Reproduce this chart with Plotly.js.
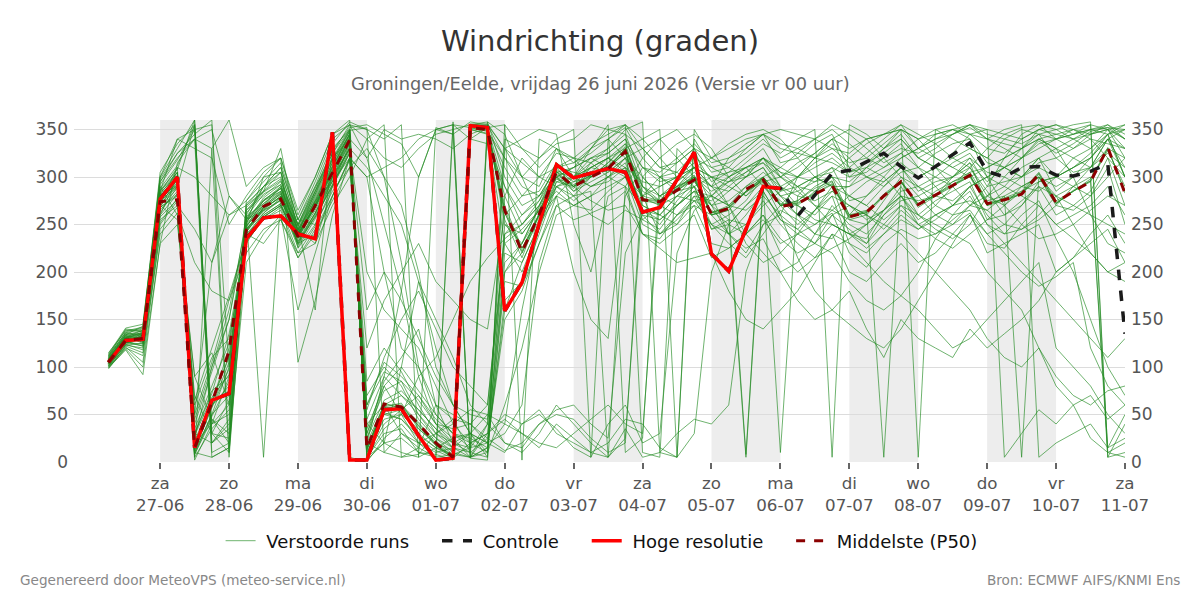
<!DOCTYPE html>
<html>
<head>
<meta charset="utf-8">
<script src="https://cdn.plot.ly/plotly-3.0.1.min.js"></script>
<style>
  html, body { margin: 0; padding: 0; background: #fff; }
  #chart { width: 1200px; height: 600px; }
</style>
</head>
<body>
<div id="chart"></div>
<script>
// Wind direction (degrees), 6-hourly steps from 26-06 06:00 to 11-07 00:00.

// High resolution run (first 10 days)
const hres = [105,128,129, 277,300,15,65, 72,235,257,259, 240,235,347,2, 2,55,56,28,
  2,4,354,352, 159,189,251,313, 299,304,309,305, 263,268,297,326, 219,201,245,290, 288];

// Control run
const control = [105,128,129, 277,300,15,65, 72,235,257,259, 240,235,347,2, 2,55,56,28,
  2,4,354,352, 159,189,251,313, 299,304,309,305, 263,268,297,326, 219,201,245,290,
  288,259,281,304, 307,316,325,311, 299,311,324,336, 306,300,310,311, 302,301,306,314, 135];

// Ensemble median
const p50 = [105,128,130, 274,276,15,62, 117,244,269,277, 237,270,305,339, 14,61,58,40,
  20,5,352,350, 265,221,261,305, 290,300,309,327, 276,274,286,297, 261,267,287,297,
  269,272,282,291, 258,263,280,295, 271,281,291,302, 272,276,282,303, 273,285,295,331, 283];

// Perturbed ensemble members
const run01 = [104,128,131, 278,296,12,58, 105,242,266,280, 238,272,308,342, 12,58,62,35, 18,6,350,346, 262,225,258,302, 292,302,312,328, 278,270,288,300, 262,270,285,298, 272,270,285,295, 260,262,282,296, 270,282,292,300, 270,278,285,305, 275,285,298,330, 285];
const run02 = [110,136,140, 292,318,350,20, 45,262,284,296, 250,290,335,358, 350,340,355,5, 352,345,358,355, 320,300,290,330, 315,325,340,352, 320,300,315,330, 305,310,330,345, 315,320,335,345, 310,325,340,355, 330,340,345,352, 340,330,320,338, 325,335,348,352, 340];
const run03 = [98,122,115, 240,262,210,180, 170,220,245,255, 215,240,280,320, 60,105,90,70, 45,30,25,15, 190,185,230,270, 255,262,270,285, 240,230,245,260, 215,225,240,255, 230,240,250,262, 220,205,230,245, 235,240,250,262, 220,230,240,250, 200,215,240,260, 230];
const run04 = [112,140,138, 300,330,360,30, 65,270,290,300, 245,282,325,350, 25,80,50,20, 5,355,340,352, 290,260,275,315, 300,330,355,10, 25,300,290,310, 290,300,315,330, 300,310,325,340, 300,315,330,345, 320,330,345,355, 350,5,30,55, 40,60,25,10, 20];
const run05 = [106,126,124, 268,280,40,95, 150,258,272,285, 232,262,300,335, 30,85,110,140, 60,20,10,5, 250,240,265,298, 288,310,320,305, 265,250,275,295, 270,240,260,285, 255,240,230,260, 245,230,260,280, 255,270,290,310, 285,260,270,295, 300,310,320,345, 300];
const run06 = [108,130,128, 285,305,8,45, 30,248,275,290, 240,285,330,5, 0,25,40,20, 10,15,355,358, 345,300,320,340, 350,5,340,355, 330,310,305,325, 295,305,320,335, 325,340,350,5, 355,345,330,340, 320,310,300,315, 295,310,330,345, 350,355,358,10, 5];
const run07 = [101,124,130, 262,290,30,75, 90,238,262,278, 228,260,295,330, 85,120,95,60, 30,20,15,40, 220,210,250,290, 275,290,300,315, 265,260,280,290, 245,255,5,290, 10,280,300,290, 240,235,265,290, 260,275,285,295, 255,260,275,290, 260,270,285,320, 270];
const run08 = [115,138,142, 305,335,355,5, 15,275,295,315, 255,295,340,355, 340,320,310,330, 345,350,355,356, 330,315,300,325, 320,315,325,340, 310,305,320,335, 315,320,330,345, 330,325,320,330, 315,320,335,350, 340,345,350,355, 345,340,335,345, 340,345,350,355, 345];
const run09 = [104,133,136, 275,298,18,60, 80,245,268,282, 236,268,303,338, 15,50,45,25, 12,4,20,30, 45,30,15,40, 25,10,20,45, 40,15,5,30, 200,250,270,290, 275,260,240,270, 250,240,260,275, 280,290,300,310, 280,270,290,300, 290,300,320,340, 310];
const run10 = [107,129,127, 272,290,10,50, 100,250,272,288, 240,268,300,330, 200,160,140,120, 80,40,20,10, 200,220,255,295, 300,310,305,320, 290,280,295,310, 300,290,280,295, 260,215,180,160, 145,130,120,140, 170,200,230,260, 240,250,270,290, 280,250,220,200, 190];
const run11 = [103,127,133, 282,290,5,35, 55,255,275,285, 245,278,315,348, 5,30,35,10, 8,2,356,354, 250,230,270,310, 305,300,310,330, 285,275,295,310, 270,285,300,310, 285,290,300,310, 275,280,295,310, 285,295,300,315, 270,285,300,320, 285,300,310,340, 300];
const run12 = [109,132,125, 255,270,245,210, 260,275,300,305, 225,250,285,310, 330,300,210,100, 60,50,40,60, 240,250,270,300, 280,285,5,290, 270,260,250,280, 250,260,275,300, 280,285,295,300, 280,270,255,270, 250,240,255,270, 265,280,290,300, 270,265,280,310, 250];
const run13 = [100,120,112, 250,275,60,110, 130,230,258,270, 232,258,290,325, 30,75,85,50, 30,15,10,25, 210,230,268,300, 290,315,330,345, 300,280,270,285, 280,270,290,305, 290,300,310,320, 305,310,320,335, 310,300,290,305, 310,320,330,340, 330,320,310,330, 320];
const run14 = [111,137,141, 298,325,345,360, 10,265,285,305, 250,288,328,352, 355,345,335,300, 350,355,352,348, 320,290,280,300, 310,320,330,350, 358,10,5,350, 320,310,300,320, 290,270,260,280, 270,260,245,265, 250,260,270,290, 300,310,320,335, 340,350,355,5, 10];
const run15 = [105,131,134, 276,300,22,65, 110,246,264,276, 236,265,300,336, 20,60,70,50, 25,10,5,350, 280,240,265,300, 285,295,305,320, 260,255,270,290, 250,240,225,235, 200,170,150,160, 180,140,110,150, 130,120,110,140, 120,135,150,170, 200,215,230,245, 210];
const run16 = [108,134,138, 288,312,355,20, 40,268,285,298, 242,275,315,345, 8,40,55,70, 40,25,5,10, 60,120,200,260, 270,280,300,310, 295,290,300,315, 300,305,310,320, 310,300,320,335, 320,300,290,305, 310,325,335,340, 315,310,300,320, 330,340,345,350, 330];
const run17 = [99,118,92, 230,250,90,45, 20,210,240,260, 160,220,280,320, 40,20,100,190, 120,60,30,20, 150,180,230,280, 270,280,290,300, 250,240,260,270, 230,225,240,260, 220,200,215,240, 200,190,210,230, 210,220,240,260, 230,225,250,270, 250,260,270,290, 260];
const run18 = [106,128,129, 280,300,15,60, 75,243,262,276, 238,270,306,340, 16,55,58,40, 22,8,355,350, 270,225,260,308, 295,300,310,325, 275,272,290,298, 260,265,285,300, 270,275,290,300, 260,265,5,295, 270,285,295,305, 275,280,5,300, 280,290,300,5, 40];
const run19 = [113,139,137, 295,320,340,350, 280,260,290,310, 255,290,320,340, 320,250,180,90, 40,20,30,50, 20,15,40,50, 45,25,10,20, 300,280,290,305, 290,285,300,320, 300,315,325,340, 330,340,345,350, 330,320,310,320, 305,300,290,285, 300,310,320,340, 330];
const run20 = [102,126,136, 265,285,35,80, 125,240,260,272, 234,262,296,332, 45,90,70,55, 35,20,350,345, 230,200,245,295, 290,305,320,310, 255,245,270,285, 245,250,270,285, 255,245,265,280, 230,220,240,260, 245,255,270,285, 250,240,260,275, 235,200,150,100, 70];
const run21 = [107,133,126, 274,292,28,68, 92,248,270,283, 240,270,304,336, 25,65,75,55, 35,15,5,15, 170,190,240,290, 300,315,300,290, 240,235,260,280, 275,290,305,320, 305,300,295,310, 300,305,320,330, 325,335,345,355, 340,350,355,5, 20,30,40,15, 25];
const run22 = [104,127,130, 270,288,45,100, 160,252,275,288, 244,274,310,344, 10,45,50,35, 20,12,340,335, 290,250,270,305, 310,320,325,340, 290,275,285,300, 280,270,265,280, 260,245,230,220, 190,170,160,175, 200,235,260,280, 250,230,210,190, 170,150,130,110, 130];
const run23 = [109,135,133, 284,310,2,40, 50,258,282,292, 248,282,320,350, 5,35,50,90, 110,150,190,215, 235,250,275,305, 300,290,295,310, 270,260,280,300, 285,295,305,315, 290,280,275,285, 270,255,265,285, 290,300,315,325, 300,290,280,270, 250,235,220,200, 210];
const run24 = [105,129,128, 276,294,20,62, 112,242,268,282, 236,271,307,342, 14,60,60,42, 18,4,353,352, 255,215,262,306, 285,300,315,332, 280,275,288,302, 262,268,285,300, 270,275,288,296, 255,260,280,295, 268,280,295,302, 270,275,282,300, 272,285,296,328, 290];
const run25 = [100,121,105, 245,268,70,30, 10,232,255,268, 220,248,290,325, 70,100,80,45, 25,15,30,20, 30,60,210,270, 280,300,310,300, 280,240,250,270, 260,265,8,295, 300,290,270,250, 240,230,250,270, 260,250,240,230, 200,180,160,120, 90,70,60,75, 80];
const run26 = [110,131,139, 286,308,360,30, 25,252,278,292, 242,280,318,348, 2,20,25,10, 5,358,4,2, 355,330,310,330, 320,300,315,335, 310,295,300,320, 310,315,325,340, 320,330,340,350, 335,320,310,320, 330,340,350,345, 350,345,340,350, 355,350,345,350, 355];
const run27 = [103,125,134, 260,300,50,210, 280,255,265,280, 230,262,298,330, 35,80,100,75, 50,30,20,30, 200,230,260,290, 295,310,320,330, 290,270,260,275, 280,295,310,315, 300,285,270,265, 255,250,265,280, 275,280,300,320, 290,295,300,310, 300,320,330,350, 320];
const run28 = [106,130,131, 279,297,14,57, 98,244,267,279, 237,269,305,339, 13,57,59,38, 17,5,351,349, 266,222,260,304, 290,302,310,326, 277,275,287,298, 263,268,284,297, 270,273,283,293, 258,264,280,294, 272,280,290,301, 272,277,283,304, 272,286,296,15, 50];
const run29 = [108,134,130, 282,305,10,50, 70,256,276,288, 244,276,312,346, 18,50,55,30, 15,5,355,350, 310,280,285,315, 300,310,320,335, 280,290,300,310, 290,270,240,220, 200,210,240,260, 270,260,250,240, 220,200,180,160, 130,110,100,120, 80,60,70,45, 60];
const run30 = [111,134,143, 295,325,340,10, 20,272,290,305, 248,285,325,355, 350,300,270,200, 100,60,30,5, 340,330,320,335, 340,355,350,345, 330,310,315,330, 320,330,340,345, 335,330,320,315, 305,315,325,340, 320,310,325,345, 340,335,330,340, 345,340,350,352, 350];
const run31 = [101,123,120, 258,276,50,105, 170,236,260,272, 226,256,292,326, 60,95,85,65, 40,35,40,25, 12,20,40,55, 60,40,25,220, 260,240,255,275, 265,250,240,260, 235,220,230,250, 240,250,265,280, 250,235,225,240, 255,270,285,295, 300,310,325,345, 300];
const run32 = [105,128,128, 277,296,16,62, 120,244,268,278, 240,271,306,340, 14,62,56,38, 20,6,352,352, 263,220,262,306, 290,300,310,326, 276,274,286,297, 260,268,284,296, 270,272,282,292, 257,263,280,296, 271,281,291,302, 272,276,282,303, 273,285,295,331, 283];
const run33 = [114,141,145, 300,340,330,320, 250,280,305,320, 260,300,345,360, 20,10,5,8, 30,45,40,20, 10,40,50,35, 15,5,40,60, 20,30,220,265, 280,300,310,290, 270,250,265,285, 290,300,310,325, 310,290,270,290, 300,310,320,330, 340,345,355,350, 340];
const run34 = [104,126,122, 268,282,30,72, 135,238,258,270, 230,258,292,328, 160,200,170,130, 90,60,50,45, 240,260,280,310, 320,335,345,355, 10,5,330,310, 300,295,300,310, 280,260,250,265, 280,295,305,315, 300,310,320,330, 320,310,300,315, 320,330,340,335, 330];
const run35 = [107,131,135, 283,302,8,48, 85,255,270,284, 239,273,311,345, 10,52,45,28, 15,8,5,30, 50,40,55,30, 20,10,5,25, 280,300,305,290, 270,255,250,270, 285,300,315,325, 310,300,295,310, 290,280,275,290, 260,240,245,255, 270,290,310,340, 350];
const run36 = [102,124,118, 252,278,65,120, 175,235,255,265, 215,245,280,318, 55,110,150,180, 140,100,80,60, 230,245,265,285, 270,265,285,300, 265,255,270,285, 270,275,290,300, 280,270,255,250, 240,225,240,255, 245,260,270,275, 265,250,245,260, 280,270,260,250, 240];
const run37 = [103,130,137, 285,340,350,355, 100,260,5,280, 250,160,330,350, 20,90,180,300, 350,345,5,15, 40,160,250,300, 310,330,340,320, 300,320,335,345, 330,300,280,300, 310,325,340,355, 345,330,315,325, 340,350,355,345, 330,325,340,350, 345,350,340,320, 300];
const run38 = [106,127,122, 270,255,90,115, 60,250,300,320, 105,170,260,320, 300,200,120,100, 50,30,15,20, 160,210,250,280, 200,150,130,280, 310,300,285,290, 300,270,230,210, 220,240,265,290, 290,310,300,280, 260,245,235,250, 280,300,320,340, 330,300,260,230, 220];
const run39 = [99,119,100, 230,315,340,330, 5,240,230,255, 220,230,270,300, 340,355,5,15, 60,45,10,355, 330,340,350,345, 250,200,280,290, 320,340,350,330, 280,240,220,250, 260,300,320,340, 350,340,320,300, 280,260,250,270, 290,320,345,355, 350,340,330,345, 350];
const run40 = [112,136,134, 290,260,30,20, 35,255,290,310, 255,250,300,330, 310,280,250,190, 150,110,60,40, 20,10,30,60, 40,20,5,35, 5,10,30,45, 40,60,200,250, 270,290,300,290, 280,270,290,310, 300,310,290,270, 280,290,310,320, 300,290,280,300, 320];
const run41 = [104,125,131, 272,310,300,280, 260,270,285,330, 240,275,295,320, 300,310,320,340, 350,355,5,40, 280,320,300,290, 280,260,250,265, 255,270,280,275, 250,230,215,240, 265,255,240,235, 260,280,300,320, 330,345,350,340, 300,270,250,235, 240,250,265,280, 270];
const run42 = [108,132,129, 280,292,25,100, 150,245,265,275, 240,268,310,345, 5,20,10,5, 15,25,30,10, 330,300,260,280, 300,320,310,330, 340,350,5,340, 310,300,310,320, 305,290,285,300, 295,310,330,350, 5,350,340,330, 320,340,350,345, 320,305,310,325, 310];
const run43 = [105,129,132, 268,300,5,330, 360,290,310,320, 265,300,345,355, 320,350,340,345, 340,330,345,352, 355,2,340,330, 300,290,300,320, 330,340,320,300, 290,320,335,345, 350,345,340,330, 325,340,345,355, 345,335,320,310, 330,345,352,355, 340,330,345,355, 340];
const run44 = [101,123,125, 260,282,20,40, 90,235,258,270, 230,240,275,310, 120,170,200,230, 190,170,150,140, 260,280,300,310, 290,275,265,270, 240,225,210,215, 220,180,150,140, 160,180,210,240, 230,210,190,175, 160,140,120,130, 150,170,190,210, 120,100,80,50, 30];
const run45 = [109,131,136, 278,305,10,5, 15,265,280,295, 250,285,318,349, 352,10,30,15, 5,8,15,358, 300,270,280,310, 315,330,350,355, 340,320,300,310, 320,335,345,350, 340,320,300,305, 320,335,345,350, 340,320,310,300, 310,320,330,350, 355,345,350,345, 355];
const run46 = [106,129,133, 275,290,355,40, 60,248,270,290, 245,230,290,335, 40,60,30,20, 30,40,55,50, 40,30,20,15, 30,45,60,40, 30,280,290,300, 260,240,250,275, 250,230,215,225, 235,250,275,300, 290,270,260,265, 240,220,200,185, 195,210,120,80, 60];

const perturbedRuns = [run01, run02, run03, run04, run05, run06, run07, run08, run09, run10,
  run11, run12, run13, run14, run15, run16, run17, run18, run19, run20,
  run21, run22, run23, run24, run25, run26, run27, run28, run29, run30,
  run31, run32, run33, run34, run35, run36, run37, run38, run39, run40,
  run41, run42, run43, run44, run45, run46];

// Day ticks on the time axis
const tickDays = ['2026-06-27','2026-06-28','2026-06-29','2026-06-30','2026-07-01','2026-07-02','2026-07-03',
  '2026-07-04','2026-07-05','2026-07-06','2026-07-07','2026-07-08','2026-07-09','2026-07-10','2026-07-11'];
const tickWeekdays = ['za','zo','ma','di','wo','do','vr','za','zo','ma','di','wo','do','vr','za'];
const tickDates = ['27-06','28-06','29-06','30-06','01-07','02-07','03-07','04-07','05-07','06-07','07-07','08-07','09-07','10-07','11-07'];

// Time stamps: 6-hour steps after the 26-06 00:00 run
function stamp(step) {
  const d = new Date(Date.UTC(2026, 5, 26, 0) + step * 6 * 3600 * 1000);
  return d.toISOString().slice(0, 16).replace('T', ' ');
}
const times = [];
for (let s = 1; s <= 60; s++) times.push(stamp(s));

const font = 'DejaVu Sans, Verdana, sans-serif';
const NB = '\u00a0';
// Legend labels padded with no-break spaces for wider item spacing
const legendName = (s, trail) => NB + s + NB.repeat(trail);
const traces = [];

perturbedRuns.forEach((vals, i) => {
  traces.push({
    type: 'scatter', mode: 'lines',
    x: times.slice(0, vals.length), y: vals,
    name: legendName('Verstoorde runs', 4), legendgroup: 'ens', showlegend: i === 0,
    line: { color: 'rgb(34,139,34)', width: 1 },
    opacity: 0.65, hoverinfo: 'skip'
  });
});

traces.push({
  type: 'scatter', mode: 'lines', x: times.slice(0, control.length), y: control,
  name: legendName('Controle', 4), line: { color: '#1a1a1a', width: 3.5, dash: 'dash' }
});
traces.push({
  type: 'scatter', mode: 'lines', x: times.slice(0, hres.length), y: hres,
  name: legendName('Hoge resolutie', 4), line: { color: '#ff0000', width: 3.5 }
});
traces.push({
  type: 'scatter', mode: 'lines', x: times.slice(0, p50.length), y: p50,
  name: legendName('Middelste (P50)', 0), line: { color: '#8b0000', width: 3, dash: 'dash' }
});

// Alternate day shading
const shadedDays = ['2026-06-27','2026-06-29','2026-07-01','2026-07-03','2026-07-05','2026-07-07','2026-07-09'];
const shapes = shadedDays.map(d => {
  const end = new Date(Date.parse(d + 'T00:00:00Z') + 24 * 3600 * 1000).toISOString().slice(0, 10);
  return {
    type: 'rect', xref: 'x', yref: 'paper', x0: d, x1: end, y0: 0, y1: 1,
    fillcolor: '#ededed', line: { width: 0 }, layer: 'below'
  };
});

const yTicks = [0, 50, 100, 150, 200, 250, 300, 350];

const layout = {
  width: 1200, height: 600,
  paper_bgcolor: '#ffffff', plot_bgcolor: '#ffffff',
  margin: { l: 74, r: 75, t: 120, b: 138 },
  font: { family: font, color: '#555' },
  title: {
    text: 'Windrichting (graden)',
    font: { family: font, size: 29, color: '#333' },
    x: 0.5, xanchor: 'center', xref: 'container',
    y: 1 - 41 / 600, yanchor: 'middle', yref: 'container'
  },
  showlegend: true,
  legend: {
    orientation: 'h', x: 0.502, xanchor: 'center', y: -0.231, yanchor: 'middle',
    font: { family: font, size: 18, color: '#111' }, bgcolor: 'rgba(0,0,0,0)'
  },
  xaxis: {
    type: 'date',
    range: ['2026-06-25 18:00', '2026-07-11 00:00'],
    tickmode: 'array',
    tickvals: tickDays,
    ticktext: tickDays.map((d, i) => tickWeekdays[i] + '<br>' + tickDates[i]),
    ticks: 'outside', ticklen: 6, tickwidth: 2, tickcolor: '#666',
    tickfont: { family: font, size: 16.7, color: '#555' },
    showgrid: false, zeroline: false, showline: false
  },
  yaxis: {
    range: [0, 360], tickmode: 'array', tickvals: yTicks,
    tickfont: { family: font, size: 17, color: '#555' },
    gridcolor: '#dcdcdc', gridwidth: 1, zeroline: false, showline: false,
    ticks: '', ticklabelstandoff: 5, fixedrange: true
  },
  yaxis2: {
    range: [0, 360], tickmode: 'array', tickvals: yTicks,
    overlaying: 'y', side: 'right', showgrid: false, zeroline: false,
    tickfont: { family: font, size: 17, color: '#555' }, ticks: '', ticklabelstandoff: 5
  },
  shapes: shapes,
  annotations: [
    {
      text: 'Groningen/Eelde, vrijdag 26 juni 2026 (Versie vr 00 uur)',
      xref: 'paper', yref: 'paper', x: (600 - 74) / 1051, y: (462 - 83) / 342,
      xanchor: 'center', yanchor: 'middle', showarrow: false,
      font: { family: font, size: 17.8, color: '#666' }
    },
    {
      text: 'Gegenereerd door MeteoVPS (meteo-service.nl)',
      xref: 'paper', yref: 'paper', x: (18 - 74) / 1051, y: (462 - 580) / 342,
      xanchor: 'left', yanchor: 'middle', showarrow: false,
      font: { family: font, size: 13.6, color: '#888' }
    },
    {
      text: 'Bron: ECMWF AIFS/KNMI Ens',
      xref: 'paper', yref: 'paper', x: (1182 - 74) / 1051, y: (462 - 580) / 342,
      xanchor: 'right', yanchor: 'middle', showarrow: false,
      font: { family: font, size: 13.6, color: '#888' }
    }
  ]
};

// Invisible trace to carry the right-hand axis
traces.push({
  type: 'scatter', mode: 'lines', x: [times[0]], y: [0], yaxis: 'y2',
  showlegend: false, hoverinfo: 'skip', line: { width: 0 }, opacity: 0
});

Plotly.newPlot('chart', traces, layout, { staticPlot: true, displayModeBar: false });
</script>
</body>
</html>
